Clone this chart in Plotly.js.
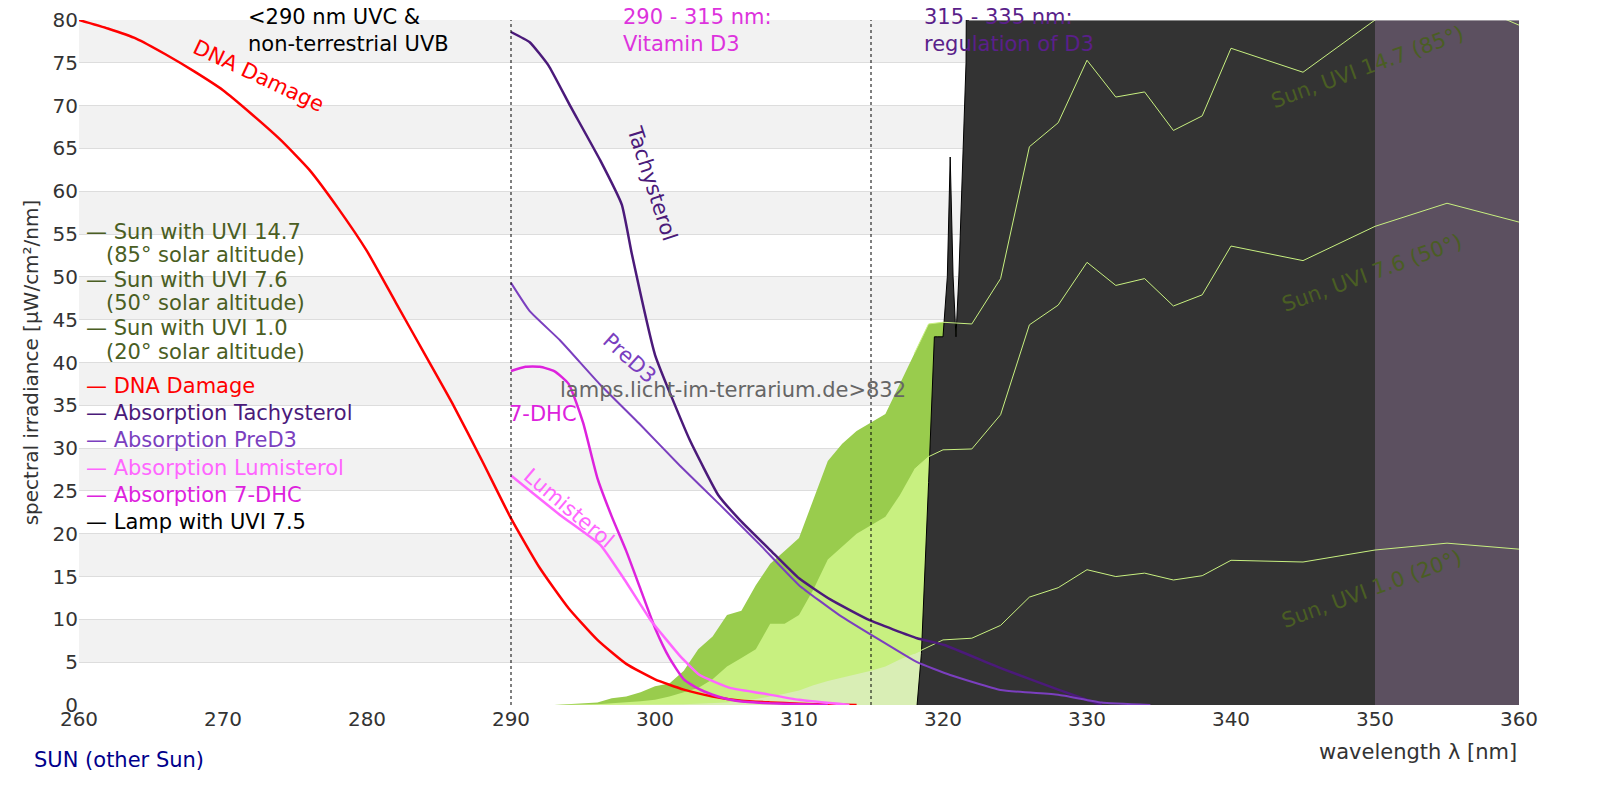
<!DOCTYPE html>
<html><head><meta charset="utf-8">
<script src="https://cdn.plot.ly/plotly-3.0.1.min.js"></script>
<style>body{margin:0}#c{width:1600px;height:800px}</style></head>
<body><div id="c"></div>
<script>
const dnaWl=[260,262,264,266,268,270,272,274,276,278,280,282,284,286,288,290,292,294,296,298,300,302,304,306,308,310,312,314];
const dnaVal=[80,79,77.8,76,74,71.8,69,66,62.5,58,53,47,41,35,28.5,21.8,16,11.3,7.6,4.8,3,1.8,1,0.5,0.3,0.15,0.05,0];
const tachWl=[290,291.3,292.6,294.1,296.2,297.7,298.4,300,302.4,304.4,305.9,308,310,312.2,314.9,318.2,320.1,324,328,331];
const tachVal=[78.6,77.4,74.7,70,63.6,58.4,52.6,40.9,31,24.5,21.6,18.1,14.8,12.3,9.9,7.8,7,4.3,1.8,0];
const preWl=[290,291.3,293.4,296.2,299,301.7,304.5,307.3,310,312.8,315.6,318.2,320.5,324,328,331,334.4];
const preVal=[49.3,46,42.6,37.4,32.7,28,23.4,18.7,14,10.5,7.6,5,3.5,1.75,1.2,0.3,0];
const dhcWl=[290,291,292,293,294,295,296,297,298,299,300,301,302,303,304,305,306,307,308,310,312];
const dhcVal=[39,39.5,39.5,39,37.5,33,26.5,22,18,13.5,9,5.5,3,1.9,1.2,0.7,0.4,0.3,0.2,0.1,0];
const lumWl=[290,293.4,296.2,297.9,299.7,301.7,303.1,305.2,307.3,310,313.5];
const lumVal=[26.8,22.2,18.7,14.6,9.9,5.8,3.5,2,1.4,0.6,0];
const sunWl=[293,294,295,296,297,298,299,300,301,302,303,304,305,306,307,308,309,310,311,312,313,314,315,316,317,318,319,320,322,324,326,328,330,332,334,336,338,340,345,350,355,360];
const sun147=[0,0.1,0.2,0.3,0.8,1,1.5,2.2,2.5,4,6.5,8,10.5,11,14,16.5,18,19.5,24,28.5,30.5,32,33,34,37.5,41,44.5,44.7,44.5,49.8,65.2,68,75.3,71,71.6,67.1,68.8,76.7,73.9,80,83,79.4];
const sun76=[0,0,0.05,0.1,0.2,0.3,0.45,0.6,1,1.5,2,3,4.5,5.5,6.5,9.5,9.5,10.5,13.5,17,18.5,20,21,22,24.5,27.5,29,29.8,29.9,33.9,44.4,46.7,51.7,49,49.8,46.6,47.9,53.6,51.9,55.9,58.6,56.4];
const sun10=[0,0,0,0,0,0,0,0,0.05,0.1,0.15,0.2,0.3,0.5,0.7,1,1.3,1.7,2.3,2.8,3.2,3.6,4,4.5,5.3,6,6.8,7.6,7.8,9.3,12.6,13.7,15.8,15,15.4,14.6,15.1,16.9,16.7,18.1,18.9,18.2];
const lampWl=[318.2,318.5,319,319.4,319.6,320,320.3,320.5,320.7,320.9,321.1,321.3,321.6,322,360];
const lampVal=[0,6,26,43,43,43,50,64,50,43,50,60,75,200,200];
const otherWl=[350,360];
const otherVal=[200,200];

const olive='#4a5e23';
const traces=[];
traces.push({x:sunWl,y:sun147,fill:'tozeroy',fillcolor:'#99cc4d',line:{width:0},mode:'lines'});
traces.push({x:sunWl,y:sun76,fill:'tozeroy',fillcolor:'#c8f080',line:{width:0},mode:'lines'});
traces.push({x:sunWl,y:sun10,fill:'tozeroy',fillcolor:'#d9eeb5',line:{width:0},mode:'lines'});
traces.push({x:lampWl,y:lampVal,fill:'tozeroy',fillcolor:'#333333',line:{color:'#000',width:1},mode:'lines'});
traces.push({x:otherWl,y:otherVal,fill:'tozeroy',fillcolor:'#5c5060',line:{width:0},mode:'lines'});
const i0=sunWl.indexOf(318);
[sun147,sun76,sun10].forEach(s=>traces.push({x:sunWl.slice(i0),y:s.slice(i0),mode:'lines',line:{color:'#c8f080',width:1}}));
traces.push({x:dnaWl,y:dnaVal,mode:'lines',line:{color:'#ff0000',width:2.5,shape:'spline',smoothing:0.5}});
traces.push({x:tachWl,y:tachVal,mode:'lines',line:{color:'#4b1a7a',width:2.5,shape:'spline',smoothing:0.4}});
traces.push({x:preWl,y:preVal,mode:'lines',line:{color:'#7b3fbf',width:2,shape:'spline',smoothing:0.4}});
traces.push({x:dhcWl,y:dhcVal,mode:'lines',line:{color:'#dd22dd',width:2.5,shape:'spline',smoothing:0.5}});
traces.push({x:lumWl,y:lumVal,mode:'lines',line:{color:'#ff66ff',width:2.5,shape:'spline',smoothing:0.4}});

const shapes=[];
for(let b=5;b<80;b+=10)shapes.push({type:'rect',xref:'paper',x0:0,x1:1,yref:'y',y0:b,y1:b+5,fillcolor:'#f2f2f2',line:{width:0},layer:'below'});
[290,315].forEach(v=>shapes.push({type:'line',x0:v,x1:v,yref:'paper',y0:0,y1:1,line:{color:'#000',width:1,dash:'3px,3px'}}));
shapes.push({type:'line',x0:321.8,x1:360,y0:80,y1:80,line:{color:'#dddddd',width:1}});

const F='DejaVu Sans, sans-serif';
const ann=[];
function A(text,x,y,color,size,opts){ann.push(Object.assign({text,x,y,xref:'x',yref:'y',showarrow:false,font:{family:F,size:size||21,color}},opts||{}));}
A('DNA Damage',272.5,73.5,'#ff0000',21,{textangle:25});
A('Tachysterol',299.8,61,'#4b1a7a',21,{textangle:72});
A('PreD3',298.2,40.5,'#7b3fbf',21,{textangle:42});
A('7-DHC',292.2,34,'#dd22dd',21);
A('Lumisterol',294,23,'#ff66ff',21,{textangle:40});
A('Sun, UVI 14.7 (85°)',349.5,74.5,olive,21,{textangle:-20});
A('Sun, UVI 7.6 (50°)',349.8,50.5,olive,21,{textangle:-20});
A('Sun, UVI 1.0 (20°)',349.8,13.5,olive,21,{textangle:-20});
A('lamps.licht-im-terrarium.de>832',305.4,36.8,'#666666',21);
const P=(t,x,y,c,o)=>ann.push(Object.assign({text:t,x,y,xref:'paper',yref:'paper',showarrow:false,xanchor:'left',yanchor:'top',align:'left',font:{family:F,size:21,color:c}},o||{}));
P('&lt;290 nm UVC &amp;<br>non-terrestrial UVB',(246-79)/1440,1.025,'#000');
P('290 - 315 nm:<br>Vitamin D3',(621-79)/1440,1.025,'#dd33dd');
P('315 - 335 nm:<br>regulation of D3',(922-79)/1440,1.025,'#5a1f8a');
const leg=[['— Sun with UVI 14.7',olive],['&nbsp;&nbsp;&nbsp;(85° solar altitude)',olive],['— Sun with UVI 7.6',olive],['&nbsp;&nbsp;&nbsp;(50° solar altitude)',olive],['— Sun with UVI 1.0',olive],['&nbsp;&nbsp;&nbsp;(20° solar altitude)',olive],['— DNA Damage','#ff0000'],['— Absorption Tachysterol','#4b1a7a'],['— Absorption PreD3','#7b3fbf'],['— Absorption Lumisterol','#ff66ff'],['— Absorption 7-DHC','#dd22dd'],['— Lamp with UVI 7.5','#000']];
const ly=[232,255,280,303,328,352,386,413,440,468,495,522];
leg.forEach((l,i)=>ann.push({text:l[0],xref:'paper',yref:'paper',x:(84-79)/1440,y:(705-ly[i])/685,xanchor:'left',yanchor:'middle',showarrow:false,font:{family:F,size:21,color:l[1]}}));
ann.push({text:'SUN (other Sun)',xref:'paper',yref:'paper',x:(32-79)/1440,y:(705-760)/685,xanchor:'left',yanchor:'middle',showarrow:false,font:{family:F,size:21,color:'#00008b'}});
ann.push({text:'wavelength λ [nm]',xref:'paper',yref:'paper',x:1,y:(705-752)/685,xanchor:'right',yanchor:'middle',showarrow:false,font:{family:F,size:21,color:'#333'}});

Plotly.newPlot('c',traces,{
 width:1600,height:800,showlegend:false,paper_bgcolor:'#fff',plot_bgcolor:'#fff',
 margin:{l:79,r:81,t:20,b:95},
 font:{family:F,size:20,color:'#333'},
 xaxis:{range:[260,360],dtick:10,showgrid:false,zeroline:false,ticks:'',automargin:false,tickfont:{size:20,color:'#333'}},
 yaxis:{range:[0,80],dtick:5,gridcolor:'#dddddd',zeroline:false,automargin:false,tickfont:{size:20,color:'#333'},
   title:{text:'spectral irradiance [µW/cm²/nm]',font:{size:20,color:'#333'},standoff:8}},
 shapes,annotations:ann
},{displayModeBar:false});
</script></body></html>
